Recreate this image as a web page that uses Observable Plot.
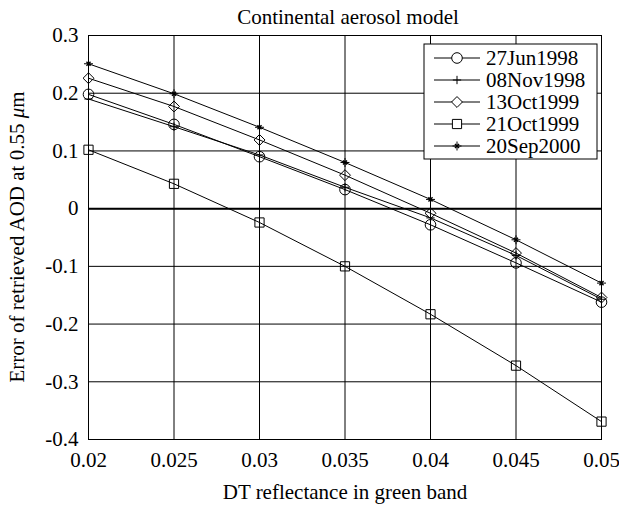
<!DOCTYPE html>
<html>
<head>
<meta charset="utf-8">
<script src="https://cdn.jsdelivr.net/npm/d3@7"></script>
<script src="https://cdn.jsdelivr.net/npm/@observablehq/plot@0.6"></script>
<style>
  html, body { margin: 0; padding: 0; background: white; }
  svg text { font-family: 'Liberation Serif', 'Times New Roman', serif !important; }
</style>
</head>
<body>
<div id="chart"></div>
<script>
const reflectance = [0.02, 0.025, 0.03, 0.035, 0.04, 0.045, 0.05];
const seriesNames = ["27Jun1998", "08Nov1998", "13Oct1999", "21Oct1999", "20Sep2000"];
const jun1998 = [0.198, 0.146, 0.090, 0.033, -0.028, -0.094, -0.162];
const nov1998 = [0.190, 0.142, 0.093, 0.037, -0.016, -0.081, -0.157];
const oct1999a = [0.226, 0.177, 0.119, 0.058, -0.008, -0.077, -0.154];
const oct1999b = [0.102, 0.043, -0.024, -0.100, -0.183, -0.272, -0.369];
const sep2000 = [0.251, 0.199, 0.141, 0.080, 0.016, -0.054, -0.129];
const xTicks = [0.02, 0.025, 0.03, 0.035, 0.04, 0.045, 0.05];
const yTicks = [-0.4, -0.3, -0.2, -0.1, 0, 0.1, 0.2, 0.3];
// each series marker: list of [symbol, r, strokeWidth]
const markerSpecs = [
  [["circle", 5.3, 1]],
  [["plus", 2.8, 1]],
  [["diamond2", 4.9, 1]],
  [["square", 5.2, 1]],
  [["plus", 3, 1], ["times", 2, 1.4]]
];

const seriesValues = [jun1998, nov1998, oct1999a, oct1999b, sep2000];
const data = [];
seriesNames.forEach((name, i) => {
  reflectance.forEach((x, j) => data.push({series: name, x, y: seriesValues[i][j]}));
});

const font = "'Liberation Serif', 'Times New Roman', serif";

const marks = [
  Plot.gridX(xTicks, {stroke: "black", strokeOpacity: 1, strokeWidth: 1}),
  Plot.gridY(yTicks, {stroke: "black", strokeOpacity: 1, strokeWidth: 1}),
  Plot.ruleY([0], {stroke: "black", strokeWidth: 2}),
  Plot.frame({stroke: "black", strokeWidth: 1}),
  Plot.axisX(xTicks, {tickSize: 0, tickPadding: 13, tickFormat: d => String(d), label: null, fontSize: 21, fontVariant: "normal"}),
  Plot.axisY(yTicks, {tickSize: 0, tickPadding: 10, tickFormat: d => String(d), label: null, fontSize: 21, fontVariant: "normal"}),
  Plot.line(data, {x: "x", y: "y", z: "series", stroke: "black", strokeWidth: 1}),
];
seriesNames.forEach((name, i) => {
  markerSpecs[i].forEach(([sym, r, sw]) => {
    marks.push(Plot.dot(data.filter(d => d.series === name), {
      x: "x", y: "y", symbol: () => sym, r,
      stroke: "black", fill: "none", strokeWidth: sw
    }));
  });
});
marks.push(Plot.text(["Continental aerosol model"], {frameAnchor: "top", dy: -26, dx: 3, fontSize: 21}));
marks.push(Plot.text(["DT reflectance in green band"], {frameAnchor: "bottom", dy: 59, fontSize: 21}));

const svgEl = Plot.plot({
  width: 619,
  height: 512,
  marginLeft: 88,
  marginRight: 18,
  marginTop: 35,
  marginBottom: 73,
  style: {fontFamily: font, fontSize: "21px", background: "white", color: "black", overflow: "visible"},
  x: {domain: [0.02, 0.05]},
  y: {domain: [-0.4, 0.3]},
  symbol: {type: "identity"},
  marks
});

const svg = d3.select(svgEl);
// Y axis label with italic mu
const yl = svg.append("text")
  .attr("transform", "translate(24,237) rotate(-90)")
  .attr("text-anchor", "middle")
  .attr("font-size", 21)
  .attr("font-family", font)
  .attr("fill", "black");
yl.append("tspan").text("Error of retrieved AOD at 0.55 ");
yl.append("tspan").attr("font-style", "italic").text("μ");
yl.append("tspan").text("m");

// Legend
const lg = svg.append("g");
lg.append("rect").attr("x", 424).attr("y", 44).attr("width", 173).attr("height", 115)
  .attr("fill", "white").attr("stroke", "black").attr("stroke-width", 1);
const symMap = {circle: d3.symbolCircle, plus: d3.symbolPlus, diamond2: d3.symbolDiamond2, square: d3.symbolSquare, times: d3.symbolTimes};
seriesNames.forEach((name, i) => {
  const yy = 58 + i * 22;
  lg.append("line").attr("x1", 434).attr("x2", 480).attr("y1", yy).attr("y2", yy)
    .attr("stroke", "black").attr("stroke-width", 1);
  markerSpecs[i].forEach(([sym, r, sw]) => {
    lg.append("path").attr("transform", `translate(457,${yy})`)
      .attr("d", d3.symbol(symMap[sym], Math.PI * r * r)())
      .attr("fill", sym === "plus" || sym === "times" ? "none" : "white")
      .attr("stroke", "black").attr("stroke-width", sw);
  });
  lg.append("text").attr("x", 486).attr("y", yy).attr("dy", "0.35em")
    .attr("text-anchor", "start")
    .attr("font-size", 21).attr("font-family", font).attr("fill", "black").text(name);
});

document.getElementById("chart").appendChild(svgEl);
</script>
</body>
</html>
